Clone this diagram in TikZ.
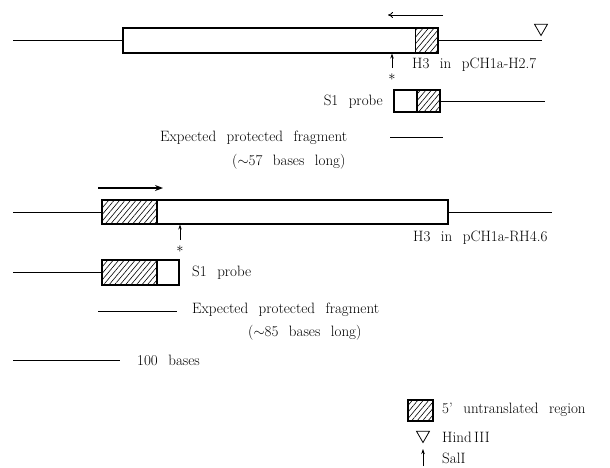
\documentclass[tikz,border=0pt]{standalone}
\usepackage{tikz}
\usetikzlibrary{shapes.geometric, arrows.meta, positioning, patterns.meta}
\tikzstyle{gene} = [rectangle, draw, line width=1.1pt, inner sep=0pt, fill=white]
\tikzstyle{utr} = [rectangle, draw, line width=1.1pt, inner sep=0pt, pattern={Lines[angle=50, distance=4.2pt, line width=0.6pt]}]
\tikzstyle{dna} = [draw, line width=1pt]
\tikzstyle{txt} = [inner sep=0pt, font={\fontsize{15}{18}\selectfont\spaceskip=10.5pt plus 1pt minus 1pt\relax}]
\tikzstyle{site} = [draw, line width=0.7pt, -{Stealth[length=5pt, width=3.5pt]}]
\tikzstyle{hindsite} = [regular polygon, regular polygon sides=3, shape border rotate=180, draw, line width=0.8pt, minimum size=15pt, inner sep=0pt]
\tikzstyle{dir} = [draw, line width=0.8pt, -{To[length=5pt, width=6pt]}]

\begin{document}
\begin{tikzpicture}[x=1pt, y=-1pt]
    \useasboundingbox (0,0) rectangle (610,467);

    % H3 in pCH1a-H2.7
    \node (geneA) [gene, minimum width=315pt, minimum height=25pt] at (280.5,40.5) {};
    \node (utrA) [utr, minimum width=23pt, minimum height=25pt, anchor=east] at (geneA.east) {};
    \coordinate (leftA) at (13,40.5);
    \coordinate (rightA) at (542,40.5);
    \draw [dna] (leftA) -- (geneA.west);
    \draw [dna] (geneA.east) -- (rightA);
    \node (hindA) [hindsite] at (541,28) {};
    \coordinate (txA) at (443,15);
    \coordinate (txAend) at (388,15);
    \draw [dir] (txA) -- (txAend);
    \coordinate (salA) at (392,68);
    \draw [site] (salA) -- (salA |- geneA.south);
    \node (starA) [txt] at (392,77) {$\ast$};
    \node (nameA) [txt, anchor=west] at (412,65) {H3 in pCH1a-H2.7};

    \node (probeA) [gene, minimum width=46pt, minimum height=22pt] at (417,101) {};
    \node (probeAutr) [utr, minimum width=23pt, minimum height=22pt, anchor=east] at (probeA.east) {};
    \coordinate (probeAend) at (545,101);
    \draw [dna] (probeA.east) -- (probeAend);
    \node (probeAlbl) [txt, anchor=east] at (383,102) {S1 probe};

    \node (fragA) [txt, anchor=west] at (160,138) {Expected protected fragment};
    \coordinate (fragA1) at (390,137);
    \coordinate (fragA2) at (443,137);
    \draw [dna] (fragA1) -- (fragA2);
    \node (lenA) [txt, anchor=west] at (232,162) {($\sim$57 bases long)};

    % H3 in pCH1a-RH4.6
    \coordinate (txB) at (98,188);
    \coordinate (txBend) at (163,188);
    \draw [dna, line width=1.8pt, -{Stealth[length=8pt, width=6pt]}] (txB) -- (txBend);
    \node (geneB) [gene, minimum width=346pt, minimum height=24pt] at (275,212) {};
    \node (utrB) [utr, minimum width=55pt, minimum height=24pt, anchor=west] at (geneB.west) {};
    \coordinate (leftB) at (13,212);
    \coordinate (rightB) at (552,212);
    \draw [dna] (leftB) -- (geneB.west);
    \draw [dna] (geneB.east) -- (rightB);
    \coordinate (salB) at (180,240);
    \draw [site] (salB) -- (salB |- geneB.south);
    \node (starB) [txt] at (180,249) {$\ast$};
    \node (nameB) [txt, anchor=west] at (413,238) {H3 in pCH1a-RH4.6};

    \node (probeB) [gene, minimum width=77pt, minimum height=25pt] at (140.5,272.5) {};
    \node (probeButr) [utr, minimum width=55pt, minimum height=25pt, anchor=west] at (probeB.west) {};
    \coordinate (probeBend) at (13,272.5);
    \draw [dna] (probeBend) -- (probeB.west);
    \node (probeBlbl) [txt, anchor=west] at (192,273) {S1 probe};

    \coordinate (fragB1) at (98,311);
    \coordinate (fragB2) at (177,311);
    \draw [dna] (fragB1) -- (fragB2);
    \node (fragB) [txt, anchor=west] at (192,310) {Expected protected fragment};
    \node (lenB) [txt, anchor=west] at (248,333) {($\sim$85 bases long)};

    % scale
    \coordinate (bar1) at (13,360);
    \coordinate (bar2) at (120,360);
    \draw [dna] (bar1) -- (bar2);
    \node (barlbl) [txt, anchor=west] at (137,360) {100 bases};

    % Key
    \node (keyUtr) [utr, minimum width=25pt, minimum height=21pt] at (420.5,410.5) {};
    \node (keyUtrlbl) [txt, anchor=west] at (442,410) {5' untranslated region};
    \node (keyHind) [hindsite] at (423,435) {};
    \node (keyHindlbl) [txt, anchor=west] at (442,437) {Hind\,III};
    \coordinate (keySal) at (423,466);
    \coordinate (keySalend) at (423,449);
    \draw [site] (keySal) -- (keySalend);
    \node (keySallbl) [txt, anchor=west] at (442,458) {SalI};
\end{tikzpicture}
\end{document}
